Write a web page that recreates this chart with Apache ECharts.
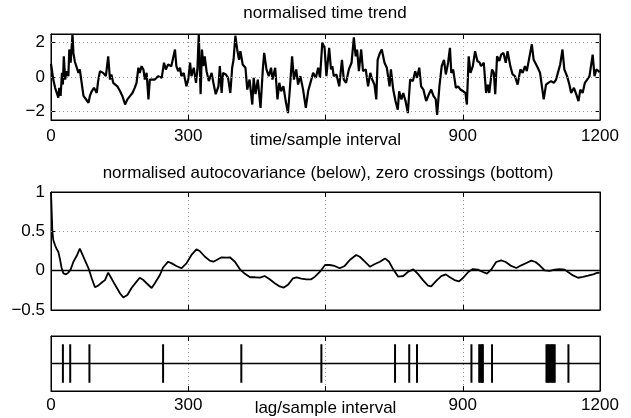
<!DOCTYPE html>
<html><head><meta charset="utf-8">
<script src="https://cdn.jsdelivr.net/npm/echarts@6/dist/echarts.min.js"></script>
<style>html,body{margin:0;padding:0;background:#fff}#c{width:631px;height:418px}</style>
</head><body><div id="c"></div>
<script>
// ---- data ----
const trendSample = [0,5,9,12,16,18,21,24,26,28,31,34,38,40,43,47,49,52,56,60,63,67,71,76,82,85,89,94,100,103,107,114,120,125,129,132,136,140,145,151,156,162,167,173,178,183,187,191,194,198,202,205,209,213,216,220,227,234,242,247,251,256,263,271,274,278,282,285,290,296,300,
304,307,312,317,320,323,327,330,333,336,340,345,351,355,360,366,369,373,376,382,387,392,396,399,403,407,411,414,419,425,429,434,440,443,447,452,458,463,466,471,476,481,484,490,495,499,503,508,513,518,522,527,531,536,540,545,551,557,562,567,573,579,584,588,593,598,602,605,
608,612,615,618,624,630,636,640,645,651,657,662,666,669,673,678,682,688,693,698,702,707,711,714,719,723,729,734,740,743,748,753,758,761,766,770,775,780,785,791,796,800,805,809,814,820,826,831,836,841,844,849,854,859,863,868,872,875,879,885,890,895,901,906,909,913,
917,922,927,932,937,940,946,951,955,958,964,968,971,975,980,984,989,994,998,1004,1009,1014,1020,1026,1031,1036,1040,1046,1051,1055,1059,1064,1069,1073,1077,1082,1087,1093,1099,1104,1109,1113,1118,1122,1128,1133,1137,1143,1148,1153,1157,1162,1167,1172,1177,1181,1184,1188,1192,1197,1199];
const trendValue = [0.77,-0.15,-0.63,-0.73,-1.2,-0.63,-1.1,0.24,-0.44,1.2,-0.15,0.34,0.05,1.6,0.83,2.5,1.4,0.9,0.83,0.24,0.44,-0.34,-1.1,-1.28,-1.5,-1.1,-0.83,-0.63,-0.93,-0.24,0.34,0.24,0.05,1.2,-0.15,0.15,-0.34,-0.44,-0.54,-0.83,-1.1,-1.6,-1.3,-1.1,-0.93,-0.63,-0.34,0.54,0.24,0.63,0.44,-0.15,0.24,-1.3,-0.15,-0.05,-0.15,0.05,-0.05,0.83,0.44,0.73,0.63,1.6,0.63,0.34,0.54,0.05,0.24,-0.54,-0.15,
0.83,0.05,0.54,-0.34,0.44,2.5,-1.0,1.6,0.63,1.2,0.34,-0.24,0.24,-0.34,-1.0,-0.54,0.63,-0.93,0.24,0.15,-0.05,-0.93,0.54,1.0,2.4,1.6,1.0,1.5,0.73,0.54,-0.73,-0.15,-1.6,-0.05,-1.0,-0.15,-1.8,0.44,1.4,0.44,0.05,0.54,-0.15,0.54,-1.3,-0.34,-0.83,-0.54,-1.4,-2.1,-0.73,1.2,-0.15,0.44,-0.44,0.05,-0.73,-1.8,-0.83,-0.34,0.24,-0.05,0.54,-0.05,2.0,1.7,0.05,-0.05,
1.7,0.44,0.63,0.05,0.15,-0.54,1.0,-0.15,-0.34,0.44,0.83,2.3,1.2,1.6,0.34,1.6,0.34,0.44,-0.54,0.24,-0.15,-0.44,-1.3,1.0,1.4,1.6,0.83,0.54,-0.54,0.44,-0.73,-1.4,-1.9,-0.83,-1.3,-0.93,-1.4,-2.1,-0.15,-0.24,0.34,-0.05,0.54,-0.54,-0.73,-1.4,-1.0,-0.73,-1.1,-1.3,-2.2,-0.54,0.63,1.0,0.15,0.83,1.7,0.24,0.44,-0.63,-0.54,-0.73,-0.83,-0.93,-1.6,1.2,
0.24,0.63,1.5,0.93,0.83,0.63,0.83,-0.93,-0.44,-0.93,0.44,0.24,-1.0,1.2,0.93,1.3,1.4,0.83,1.5,0.63,0.15,0.05,-0.44,0.44,0.24,0.63,0.34,1.2,1.9,1.0,1.1,0.54,0.24,-0.54,-1.3,-0.44,-0.34,-0.24,-0.34,-0.15,0.34,0.73,1.6,0.44,0.05,-0.44,-0.93,-0.63,-1.0,-1.4,-0.73,-0.93,-0.34,-0.15,0.05,-0.05,1.3,0.05,0.44,0.34,0.28];

const acfLag = [0,3,5,9,12,16,20,23,27,33,38,43,49,56,63,67,74,82,89,96,103,111,118,125,132,140,151,158,167,176,187,194,202,209,220,227,238,245,256,264,274,285,296,307,318,325,336,347,355,362,373,384,391,402,413,424,435,446,457,467,478,489,500,509,518,529,537,547,558,569,577,588,599,609,620,631,642,653,667,675,686,697,708,719,730,739,748,759,770,781,792,802,813,824,831,842,853,863,871,882,892,901,912,922,933,944,953,962,973,984,994,1006,1017,1028,1039,1050,1059,1068,1079,1090,1101,1112,1123,1130,1141,1152,1163,1174,1185,1195,1199];
const acfValue = [1.0,0.5,0.39,0.32,0.28,0.24,0.135,0.04,-0.034,-0.046,-0.025,0.017,0.114,0.186,0.28,0.26,0.135,0.03,-0.097,-0.21,-0.19,-0.15,-0.12,-0.025,-0.097,-0.18,-0.29,-0.34,-0.31,-0.22,-0.14,-0.09,-0.12,-0.16,-0.22,-0.16,-0.055,0.04,0.114,0.093,0.06,0.03,0.093,0.2,0.27,0.25,0.18,0.127,0.114,0.135,0.17,0.165,0.17,0.114,0.017,-0.04,-0.084,-0.084,-0.089,-0.068,-0.11,-0.16,-0.2,-0.215,-0.18,-0.097,-0.084,-0.1,-0.11,-0.11,-0.076,-0.013,0.072,0.072,0.06,0.03,0.06,0.135,0.2,0.177,0.114,0.05,0.084,0.114,0.156,0.114,0.017,-0.076,-0.068,-0.013,0.017,-0.04,-0.12,-0.19,-0.2,-0.13,-0.07,-0.047,-0.08,-0.12,-0.137,-0.09,-0.017,0.02,0.013,-0.017,-0.038,0.013,0.11,0.13,0.11,0.06,0.034,0.068,0.098,0.128,0.11,0.068,0.004,-0.004,0.013,0.02,0.013,-0.017,-0.06,-0.09,-0.08,-0.064,-0.047,-0.026,-0.03];

const crossingLag = [26,42,84,245,416,591,752,783,800,919,936,939,942,944,964,1083,1086,1089,1092,1095,1098,1101,1131];

const trendTicks = [-2,0,2];
const acfTicks = [-0.5,0,0.5,1];
const titles = ['normalised time trend','normalised autocovariance (below), zero crossings (bottom)'];
const xNames = ['time/sample interval','lag/sample interval'];

// ---- chart ----
const FONT = "'Liberation Sans', Arial, Helvetica, sans-serif";
const fmt = v => (v === 600 ? '' : String(v).replace('-', '\u2212'));
const dotted = {show:true, lineStyle:{color:'#9a9a9a', type:[1,3], width:1}};
const gridsDef = [
  {left:51, right:31, top:34, height:86},
  {left:51, right:31, top:192, height:118},
  {left:51, right:31, top:336, height:57}
];
const grids = gridsDef.map(g => Object.assign({show:true, borderColor:'#000', borderWidth:1, backgroundColor:'transparent'}, g));

function xAx(gi, pos, showLabel, name, labelMargin, nameGap) {
  return {
    type:'value', gridIndex:gi, position:pos, min:0, max:1200, interval:300,
    axisLine:{show:true, onZero:false, lineStyle:{color:'#000', width:1}},
    axisTick:{show:true, inside:true, length:5, lineStyle:{color:'#000'}},
    axisLabel:{show:showLabel, formatter:fmt, color:'#000', fontSize:17, fontFamily:FONT, margin:labelMargin, showMinLabel:true, showMaxLabel:true},
    splitLine: pos === 'bottom' ? dotted : {show:false},
    name: name || '', nameLocation:'middle', nameGap: nameGap || 0, nameMoveOverlap:false,
    nameTextStyle:{color:'#000', fontSize:17, fontFamily:FONT}
  };
}
function yAx(gi, pos, min, max, ticks, showLabel) {
  return {
    type:'value', gridIndex:gi, position:pos, min:min, max:max,
    axisLine:{show:true, onZero:false, lineStyle:{color:'#000', width:1}},
    axisTick:{show: ticks.length > 0, inside:true, length:5, customValues:ticks, lineStyle:{color:'#000'}},
    axisLabel:{show:showLabel, customValues:ticks, formatter:fmt, color:'#000', fontSize:17, fontFamily:FONT, margin:6},
    splitLine:{show:false}
  };
}

const xAxes = [
  xAx(0,'bottom',true,xNames[0],8,12), xAx(0,'top',false,'',8),
  xAx(1,'bottom',false,'',8), xAx(1,'top',false,'',8),
  xAx(2,'bottom',true,xNames[1],6,9), xAx(2,'top',false,'',6)
];
const yAxes = [
  yAx(0,'left',-2.5,2.5,trendTicks,true), yAx(0,'right',-2.5,2.5,trendTicks,false),
  yAx(1,'left',-0.5,1,acfTicks,true), yAx(1,'right',-0.5,1,acfTicks,false),
  yAx(2,'left',-1,1,[],false), yAx(2,'right',-1,1,[],false)
];

const gridLineMark = vals => ({
  silent:true, symbol:'none', label:{show:false}, animation:false,
  lineStyle:{color:'#9a9a9a', type:[1,3], width:1},
  data: vals.map(v => ({yAxis:v}))
});
const solidMark = v => ({
  silent:true, symbol:'none', label:{show:false}, animation:false,
  lineStyle:{color:'#000', type:'solid', width:1.3},
  data:[{yAxis:v}]
});

const option = {
  animation:false,
  grid: grids,
  xAxis: xAxes,
  yAxis: yAxes,
  graphic: [
    {type:'text', x:325, y:13, style:{text:titles[0], fill:'#000', font:'17px ' + FONT, textAlign:'center', textVerticalAlign:'middle'}},
    {type:'text', x:328, y:173, style:{text:titles[1], fill:'#000', font:'17px ' + FONT, textAlign:'center', textVerticalAlign:'middle'}}
  ],
  series: [
    {type:'line', xAxisIndex:0, yAxisIndex:0, z:1, data:[], markLine:gridLineMark([2,0,-2])},
    {type:'line', xAxisIndex:0, yAxisIndex:0, z:3, showSymbol:false, symbol:'none',
     data: trendSample.map((s,i)=>[s, trendValue[i]]),
     lineStyle:{color:'#000', width:2.2}},
    {type:'line', xAxisIndex:2, yAxisIndex:2, z:1, data:[], markLine:gridLineMark([0.5])},
    {type:'line', xAxisIndex:2, yAxisIndex:2, z:3, showSymbol:false, symbol:'none',
     data: acfLag.map((s,i)=>[s, acfValue[i]]),
     lineStyle:{color:'#000', width:1.8}, markLine: solidMark(0)},
    {type:'line', xAxisIndex:4, yAxisIndex:4, z:2, data:[], markLine: solidMark(0)},
    {type:'custom', xAxisIndex:4, yAxisIndex:4, z:3,
     data: crossingLag.map(l => [l, 0]),
     renderItem: (params, api) => {
       const a = api.coord([api.value(0), -0.7]);
       const b = api.coord([api.value(0), 0.7]);
       return {type:'line', shape:{x1:a[0], y1:a[1], x2:b[0], y2:b[1]}, style:{stroke:'#000', lineWidth:2}};
     }}
  ]
};
const chart = echarts.init(document.getElementById('c'), null, {renderer:'canvas'});
chart.setOption(option);
</script>
</body></html>
